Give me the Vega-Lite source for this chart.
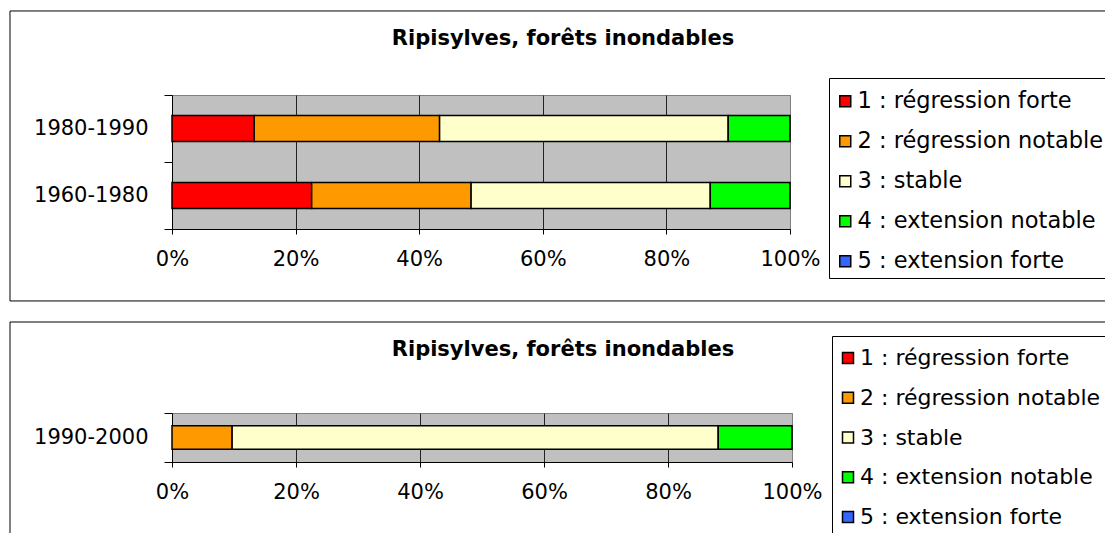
{
  "$schema": "https://vega.github.io/schema/vega-lite/v6.json",
  "padding": {"left": 8, "top": 9, "right": 0, "bottom": 0},
  "background": "white",
  "spacing": 19,
  "resolve": {"scale": {"color": "independent"}},
  "config": {
    "font": "DejaVu Sans",
    "axis": {"labelFont": "DejaVu Sans", "labelFontSize": 21, "labelColor": "black"},
    "legend": {"labelFont": "DejaVu Sans"}
  },
  "datasets": {
    "top": [
      {"period": "1980-1990", "cat": "1 : régression forte", "pct": 13.3},
      {"period": "1980-1990", "cat": "2 : régression notable", "pct": 30.0},
      {"period": "1980-1990", "cat": "3 : stable", "pct": 46.7},
      {"period": "1980-1990", "cat": "4 : extension notable", "pct": 10.0},
      {"period": "1960-1980", "cat": "1 : régression forte", "pct": 22.6},
      {"period": "1960-1980", "cat": "2 : régression notable", "pct": 25.8},
      {"period": "1960-1980", "cat": "3 : stable", "pct": 38.7},
      {"period": "1960-1980", "cat": "4 : extension notable", "pct": 12.9}
    ],
    "bottom": [
      {"period": "1990-2000", "cat": "2 : régression notable", "pct": 9.7},
      {"period": "1990-2000", "cat": "3 : stable", "pct": 78.4},
      {"period": "1990-2000", "cat": "4 : extension notable", "pct": 11.9}
    ],
    "titles": [{"t": "Ripisylves, forêts inondables"}]
  },
  "vconcat": [
    {
      "width": 618,
      "height": 134,
      "view": {"fill": "#c0c0c0", "stroke": "#808080", "strokeWidth": 1},
      "resolve": {"scale": {"y": "independent"}},
      "layer": [
        {
          "data": {"name": "top"},
          "mark": {"type": "bar", "stroke": "black", "strokeWidth": 1.5, "height": {"band": 0.39}},
          "encoding": {
            "y": {
              "field": "period", "type": "nominal", "sort": ["1980-1990", "1960-1980"],
              "scale": {"paddingInner": 0, "paddingOuter": 0},
              "axis": {"title": null, "domainColor": "black", "tickColor": "black", "tickSize": 8, "tickBand": "extent", "labelPadding": 16, "labelFontSize": 21, "labelColor": "black"}
            },
            "x": {
              "field": "pct", "type": "quantitative", "stack": "normalize",
              "scale": {"domain": [0, 1], "nice": false},
              "axis": {
                "title": null, "format": ".0%", "values": [0, 0.2, 0.4, 0.6, 0.8, 1],
                "grid": true,
                "gridColor": {"condition": {"test": "datum.value <= 0 || datum.value >= 1", "value": "#808080"}, "value": "#222222"},
                "gridOpacity": 1, "domainColor": "black", "tickColor": "black", "tickSize": 5,
                "labelPadding": 14, "labelFontSize": 21, "labelFlush": false, "labelColor": "black"
              }
            },
            "color": {
              "field": "cat", "type": "nominal",
              "scale": {
                "domain": ["1 : régression forte", "2 : régression notable", "3 : stable", "4 : extension notable", "5 : extension forte"],
                "range": ["#ff0000", "#ff9900", "#ffffcc", "#00ff00", "#3366ff"]
              },
              "legend": {
                "orient": "none", "legendX": 657, "legendY": -17, "title": " ", "titleFontSize": 7, "titlePadding": 0, "direction": "vertical",
                "strokeColor": "black", "fillColor": "white", "padding": 5,
                "symbolType": "square", "symbolSize": 121, "symbolStrokeColor": "black", "symbolStrokeWidth": 1.5, "symbolOpacity": 1,
                "labelFontSize": 22.5, "labelColor": "black", "labelOffset": 1, "rowPadding": 17.0, "labelLimit": 400
              }
            },
            "order": {"field": "cat", "sort": "ascending"}
          }
        },
        {
          "data": {"name": "titles"},
          "layer": [
            {
              "mark": {"type": "rect", "fill": "white", "fillOpacity": 0, "stroke": "black", "strokeWidth": 1},
              "encoding": {
                "x": {"datum": -0.26214, "type": "quantitative"},
                "x2": {"datum": 1.5275},
                "y": {"datum": 1.627, "type": "quantitative", "scale": {"domain": [0, 1], "nice": false, "zero": false}, "axis": null},
                "y2": {"datum": -0.537}
              }
            },
            {
              "mark": {"type": "text", "font": "DejaVu Sans", "fontWeight": "bold", "fontSize": 21, "color": "black", "align": "center", "baseline": "middle"},
              "encoding": {
                "text": {"field": "t"},
                "x": {"datum": 0.6327, "type": "quantitative"},
                "y": {"datum": 1.418, "type": "quantitative"}
              }
            }
          ]
        }
      ]
    },
    {
      "width": 620,
      "height": 49,
      "view": {"fill": "#c0c0c0", "stroke": "#808080", "strokeWidth": 1},
      "resolve": {"scale": {"y": "independent"}},
      "layer": [
        {
          "data": {"name": "bottom"},
          "mark": {"type": "bar", "stroke": "black", "strokeWidth": 1.5, "height": {"band": 0.48}},
          "encoding": {
            "y": {
              "field": "period", "type": "nominal",
              "scale": {"paddingInner": 0, "paddingOuter": 0},
              "axis": {"title": null, "domainColor": "black", "tickColor": "black", "tickSize": 8, "tickBand": "extent", "labelPadding": 16, "labelFontSize": 21, "labelColor": "black"}
            },
            "x": {
              "field": "pct", "type": "quantitative", "stack": "normalize",
              "scale": {"domain": [0, 1], "nice": false},
              "axis": {
                "title": null, "format": ".0%", "values": [0, 0.2, 0.4, 0.6, 0.8, 1],
                "grid": true,
                "gridColor": {"condition": {"test": "datum.value <= 0 || datum.value >= 1", "value": "#808080"}, "value": "#222222"},
                "gridOpacity": 1, "domainColor": "black", "tickColor": "black", "tickSize": 5,
                "labelPadding": 14, "labelFontSize": 21, "labelFlush": false, "labelColor": "black"
              }
            },
            "color": {
              "field": "cat", "type": "nominal",
              "scale": {
                "domain": ["1 : régression forte", "2 : régression notable", "3 : stable", "4 : extension notable", "5 : extension forte"],
                "range": ["#ff0000", "#ff9900", "#ffffcc", "#00ff00", "#3366ff"]
              },
              "legend": {
                "orient": "none", "legendX": 660, "legendY": -77, "title": " ", "titleFontSize": 6, "titlePadding": 0, "direction": "vertical",
                "strokeColor": "black", "fillColor": "white", "padding": 5,
                "symbolType": "square", "symbolSize": 121, "symbolStrokeColor": "black", "symbolStrokeWidth": 1.5, "symbolOpacity": 1,
                "labelFontSize": 22, "labelColor": "black", "labelOffset": 1, "rowPadding": 17.75, "labelLimit": 400
              }
            },
            "order": {"field": "cat", "sort": "ascending"}
          }
        },
        {
          "data": {"name": "titles"},
          "layer": [
            {
              "mark": {"type": "rect", "fill": "white", "fillOpacity": 0, "stroke": "black", "strokeWidth": 1},
              "encoding": {
                "x": {"datum": -0.26129, "type": "quantitative"},
                "x2": {"datum": 1.5226},
                "y": {"datum": 2.857, "type": "quantitative", "scale": {"domain": [0, 1], "nice": false, "zero": false}, "axis": null},
                "y2": {"datum": -1.694}
              }
            },
            {
              "mark": {"type": "text", "font": "DejaVu Sans", "fontWeight": "bold", "fontSize": 21, "color": "black", "align": "center", "baseline": "middle"},
              "encoding": {
                "text": {"field": "t"},
                "x": {"datum": 0.6306, "type": "quantitative"},
                "y": {"datum": 2.2857, "type": "quantitative"}
              }
            }
          ]
        }
      ]
    }
  ]
}
